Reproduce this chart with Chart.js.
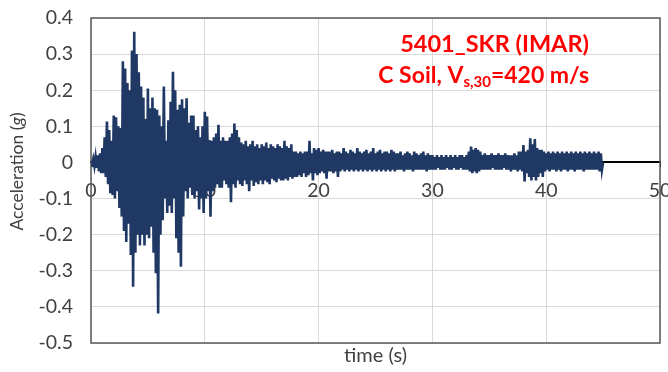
<!DOCTYPE html>
<html>
<head>
<meta charset="utf-8">
<script src="https://cdn.jsdelivr.net/npm/chart.js@4.4.1/dist/chart.umd.min.js"></script>
<style>
  html, body { margin: 0; padding: 0; background: #fff; }
</style>
</head>
<body>
<canvas id="chart" width="668" height="372"></canvas>
<script>
const timeStep = 0.1;

const accel0to10 = [
  0.000, -0.005, 0.010, -0.010, 0.015, -0.015, 0.020, -0.025, 0.025, -0.030,
  0.040, -0.030, 0.070, -0.040, 0.113, -0.060, 0.090, -0.085, 0.060, -0.090,
  0.130, -0.100, 0.125, -0.080, 0.100, -0.126, 0.095, -0.150, 0.280, -0.190,
  0.260, -0.220, 0.220, -0.170, 0.200, -0.256, 0.310, -0.344, 0.362, -0.250,
  0.300, -0.200, 0.250, -0.230, 0.210, -0.200, 0.180, -0.230, 0.120, -0.200,
  0.205, -0.210, 0.150, -0.178, 0.180, -0.250, 0.150, -0.307, 0.146, -0.418,
  0.130, -0.200, 0.100, -0.160, 0.210, -0.100, 0.060, -0.140, 0.117, -0.120,
  0.168, -0.140, 0.251, -0.100, 0.200, -0.210, 0.146, -0.250, 0.160, -0.289,
  0.175, -0.150, 0.150, -0.080, 0.178, -0.100, 0.110, -0.070, 0.130, -0.090,
  0.130, -0.100, 0.090, -0.080, 0.100, -0.130, 0.070, -0.100, 0.100, -0.140
];

const accel10to20 = [
  0.140, -0.100, 0.127, -0.080, 0.062, -0.150, 0.060, -0.080, 0.070, -0.070,
  0.080, -0.060, 0.104, -0.070, 0.060, -0.070, 0.070, -0.050, 0.060, -0.060,
  0.060, -0.070, 0.070, -0.110, 0.080, -0.060, 0.108, -0.070, 0.090, -0.050,
  0.070, -0.060, 0.055, -0.065, 0.050, -0.050, 0.060, -0.060, 0.045, -0.080,
  0.050, -0.050, 0.060, -0.065, 0.045, -0.055, 0.050, -0.060, 0.040, -0.050,
  0.050, -0.060, 0.045, -0.050, 0.055, -0.055, 0.040, -0.060, 0.050, -0.045,
  0.045, -0.050, 0.040, -0.055, 0.050, -0.045, 0.045, -0.050, 0.040, -0.050,
  0.060, -0.045, 0.045, -0.050, 0.040, -0.040, 0.050, -0.045, 0.030, -0.040,
  0.030, -0.040, 0.025, -0.035, 0.030, -0.040, 0.025, -0.030, 0.030, -0.040,
  0.030, -0.035, 0.060, -0.030, 0.025, -0.050, 0.040, -0.030, 0.035, -0.035
];

const accel20to30 = [
  0.040, -0.030, 0.030, -0.025, 0.035, -0.030, 0.030, -0.045, 0.030, -0.025,
  0.030, -0.025, 0.035, -0.030, 0.025, -0.025, 0.030, -0.040, 0.030, -0.025,
  0.025, -0.020, 0.040, -0.025, 0.030, -0.020, 0.025, -0.025, 0.035, -0.020,
  0.030, -0.025, 0.025, -0.020, 0.040, -0.025, 0.030, -0.020, 0.025, -0.025,
  0.030, -0.020, 0.035, -0.025, 0.025, -0.020, 0.030, -0.025, 0.040, -0.020,
  0.025, -0.025, 0.030, -0.020, 0.035, -0.025, 0.025, -0.020, 0.030, -0.025,
  0.030, -0.020, 0.025, -0.025, 0.035, -0.020, 0.030, -0.025, 0.025, -0.020,
  0.025, -0.020, 0.030, -0.020, 0.020, -0.025, 0.025, -0.020, 0.030, -0.020,
  0.025, -0.020, 0.020, -0.025, 0.030, -0.020, 0.025, -0.020, 0.020, -0.020,
  0.025, -0.020, 0.030, -0.020, 0.020, -0.025, 0.025, -0.020, 0.020, -0.020
];

const accel30to45 = [
  0.020, -0.020, 0.015, -0.020, 0.020, -0.015, 0.015, -0.020, 0.020, -0.020,
  0.015, -0.020, 0.020, -0.015, 0.015, -0.020, 0.020, -0.020, 0.015, -0.015,
  0.020, -0.020, 0.015, -0.020, 0.020, -0.015, 0.020, -0.020, 0.015, -0.020,
  0.020, -0.020, 0.030, -0.025, 0.044, -0.030, 0.035, -0.025, 0.040, -0.030,
  0.035, -0.025, 0.030, -0.020, 0.020, -0.020, 0.025, -0.020, 0.020, -0.020,
  0.020, -0.020, 0.025, -0.015, 0.020, -0.020, 0.020, -0.020, 0.025, -0.020,
  0.020, -0.020, 0.020, -0.015, 0.025, -0.020, 0.020, -0.020, 0.020, -0.025,
  0.020, -0.020, 0.025, -0.020, 0.020, -0.025, 0.030, -0.020, 0.030, -0.025,
  0.048, -0.053, 0.030, -0.030, 0.035, -0.040, 0.067, -0.050, 0.050, -0.040,
  0.065, -0.050, 0.040, -0.040, 0.035, -0.030, 0.035, -0.040, 0.030, -0.025,
  0.025, -0.020, 0.030, -0.025, 0.025, -0.020, 0.030, -0.020, 0.025, -0.025,
  0.030, -0.020, 0.025, -0.025, 0.030, -0.020, 0.025, -0.020, 0.030, -0.025,
  0.025, -0.020, 0.030, -0.020, 0.025, -0.025, 0.030, -0.020, 0.025, -0.020,
  0.030, -0.020, 0.025, -0.025, 0.030, -0.020, 0.025, -0.020, 0.030, -0.020,
  0.025, -0.020, 0.030, -0.020, 0.025, -0.020, 0.030, -0.025, 0.025, -0.020,
  0.000
];

const xTicks = [0, 10, 20, 30, 40, 50];
const yTicks = [-0.5, -0.4, -0.3, -0.2, -0.1, 0, 0.1, 0.2, 0.3, 0.4];

const stationLabel = '5401_SKR (IMAR)';
const siteLabel = ['C Soil, V', 's,30', '=420 m/s'];

const accel = [].concat(accel0to10, accel10to20, accel20to30, accel30to45);
const points = accel.map((a, i) => ({ x: Math.round(i * timeStep * 10) / 10, y: a }));

const fontFamily = 'Lato, "Open Sans", sans-serif';
const axisText = '#404040';

// frame round the plot area + axis titles + red notes
const extras = {
  id: 'extras',
  beforeDatasetsDraw(chart) {
    const { ctx, chartArea: a } = chart;
    ctx.save();
    ctx.strokeStyle = '#595959';
    ctx.lineWidth = 1.5;
    ctx.strokeRect(a.left, a.top, a.right - a.left, a.bottom - a.top);
    ctx.restore();
  },
  afterDraw(chart) {
    const { ctx, chartArea: a } = chart;
    ctx.save();
    ctx.fillStyle = axisText;
    ctx.textBaseline = 'middle';

    // y title with italic g
    const f1 = '17.5px ' + fontFamily;
    const f2 = 'italic 17.5px ' + fontFamily;
    const p1 = 'Acceleration (', p2 = 'g', p3 = ')';
    ctx.font = f1;
    const w1 = ctx.measureText(p1).width, w3 = ctx.measureText(p3).width;
    ctx.font = f2;
    const w2 = ctx.measureText(p2).width;
    const total = w1 + w2 + w3;
    ctx.translate(17, (a.top + a.bottom) / 2 - 9);
    ctx.rotate(-Math.PI / 2);
    ctx.textAlign = 'left';
    let x = -total / 2;
    ctx.font = f1; ctx.fillText(p1, x, 0); x += w1;
    ctx.font = f2; ctx.fillText(p2, x, 0); x += w2;
    ctx.font = f1; ctx.fillText(p3, x, 0);
    ctx.setTransform(1, 0, 0, 1, 0, 0);

    // x title
    ctx.font = '20px ' + fontFamily;
    ctx.textAlign = 'center';
    ctx.fillText('time (s)', (a.left + a.right) / 2, 356);

    // red notes, right aligned
    ctx.fillStyle = '#ff0000';
    ctx.textBaseline = 'alphabetic';
    const right = 589;
    ctx.font = 'bold 23.5px ' + fontFamily;
    ctx.textAlign = 'right';
    ctx.fillText(stationLabel, right, 52);

    const big = 'bold 23px ' + fontFamily, small = 'bold 15px ' + fontFamily;
    ctx.font = big;
    const s1 = ctx.measureText(siteLabel[0]).width, s3 = ctx.measureText(siteLabel[2]).width;
    ctx.font = small;
    const s2 = ctx.measureText(siteLabel[1]).width;
    ctx.textAlign = 'left';
    let sx = right - (s1 + s2 + s3);
    ctx.font = big; ctx.fillText(siteLabel[0], sx, 83); sx += s1;
    ctx.font = small; ctx.fillText(siteLabel[1], sx, 87); sx += s2;
    ctx.font = big; ctx.fillText(siteLabel[2], sx, 83);
    ctx.restore();
  }
};

new Chart(document.getElementById('chart'), {
  type: 'line',
  data: {
    datasets: [{
      data: points,
      borderColor: '#1f3864',
      borderWidth: 2.6,
      pointRadius: 0,
      fill: false,
      tension: 0
    }]
  },
  options: {
    responsive: false,
    animation: false,
    layout: { padding: { left: 0, right: 8, top: 18, bottom: 29 } },
    plugins: {
      legend: { display: false },
      tooltip: { enabled: false }
    },
    scales: {
      x: {
        type: 'linear',
        position: { y: 0 },
        min: 0,
        max: 50,
        afterBuildTicks: s => { s.ticks = xTicks.map(v => ({ value: v })); },
        afterFit: s => { s.paddingLeft = 0; s.paddingRight = 0; },
        ticks: {
          color: axisText,
          font: { family: fontFamily, size: 19.5, lineHeight: 2.15 },
          maxRotation: 0
        },
        grid: { color: '#d9d9d9', lineWidth: 1, tickLength: 4, tickColor: '#000' },
        border: { display: true, color: '#000', width: 2 }
      },
      y: {
        type: 'linear',
        min: -0.5,
        max: 0.4,
        afterBuildTicks: s => { s.ticks = yTicks.map(v => ({ value: v })); },
        afterFit: s => { s.width = 91; },
        ticks: {
          color: axisText,
          padding: 0,
          font: { family: fontFamily, size: 19.5 },
          callback: v => String(Math.round(v * 10) / 10)
        },
        grid: { color: '#d9d9d9', lineWidth: 1, drawTicks: true, tickLength: 18, tickColor: 'rgba(0,0,0,0)' },
        border: { display: false }
      }
    }
  },
  plugins: [extras]
});
</script>
</body>
</html>
